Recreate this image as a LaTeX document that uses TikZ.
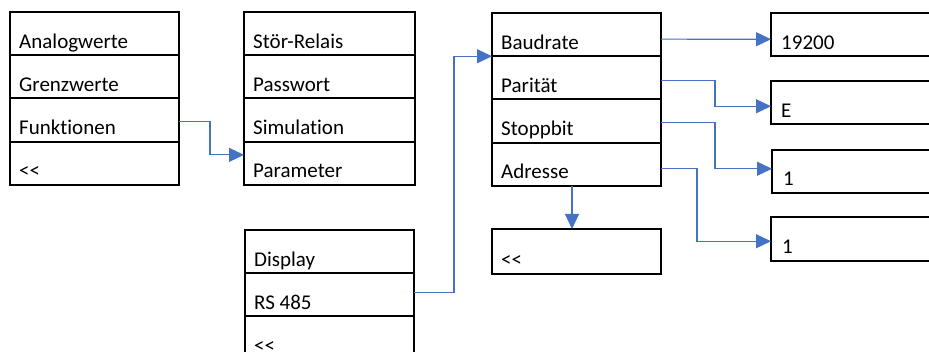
\documentclass[tikz,border=0pt]{standalone}
\usepackage{fontspec}
\setmainfont{Carlito}[Ligatures=NoCommon]
\usetikzlibrary{arrows.meta,calc}
\definecolor{conblue}{HTML}{4472C4}
\newcommand{\lessless}{<\kern0pt<}
\tikzset{
  rowbox/.style={draw=black, line width=2pt, minimum width=#1, minimum height=43.25pt,
    anchor=north west, inner sep=0pt, outer sep=0pt},
  rowbox/.default=169pt,
  valbox/.style={draw=black, line width=2pt, minimum width=240pt, minimum height=43.5pt,
    anchor=north west, inner sep=0pt, outer sep=0pt},
  txt/.style={anchor=base west, inner sep=0pt, font=\fontsize{21}{24}\selectfont},
  conn/.style={draw=conblue, line width=1.2pt, -{Triangle[length=15pt,width=14pt]}},
}
\begin{document}
\begin{tikzpicture}[x=1pt,y=-1pt]
\useasboundingbox (0,0) rectangle (929,352);
\clip (0,0) rectangle (929,352);
\fill[white] (0,0) rectangle (929,352);
% box 1
\node[rowbox] (a1) at (10,12) {};
\node[rowbox] (a2) at (10,55.25) {};
\node[rowbox] (a3) at (10,98.5) {};
\node[rowbox] (a4) at (10,141.75) {};
\node[txt] (a1t) at ($(a1.south west)+(9,-7)$) {Analogwerte};
\node[txt] (a2t) at ($(a2.south west)+(9,-7)$) {Grenzwerte};
\node[txt] (a3t) at ($(a3.south west)+(9,-7)$) {Funktionen};
\node[txt] (a4t) at ($(a4.south west)+(9,-7)$) {\lessless};
% box 2
\node[rowbox=171pt] (b1) at (244,12) {};
\node[rowbox=171pt] (b2) at (244,55.25) {};
\node[rowbox=171pt] (b3) at (244,98.5) {};
\node[rowbox=171pt] (b4) at (244,141.75) {};
\node[txt] (b1t) at ($(b1.south west)+(9,-7)$) {Stör-Relais};
\node[txt] (b2t) at ($(b2.south west)+(9,-7)$) {Passwort};
\node[txt] (b3t) at ($(b3.south west)+(9,-7)$) {Simulation};
\node[txt] (b4t) at ($(b4.south west)+(9,-7)$) {Parameter};
% box 3
\node[rowbox] (c1) at (245,230) {};
\node[rowbox] (c2) at (245,273.25) {};
\node[rowbox] (c3) at (245,316.5) {};
\node[txt] (c1t) at ($(c1.south west)+(9,-7)$) {Display};
\node[txt] (c2t) at ($(c2.south west)+(9,-7)$) {RS 485};
\node[txt] (c3t) at ($(c3.south west)+(9,-7)$) {\lessless};
% box 4
\node[rowbox] (d1) at (492,13) {};
\node[rowbox] (d2) at (492,56.25) {};
\node[rowbox] (d3) at (492,99.5) {};
\node[rowbox] (d4) at (492,142.75) {};
\node[txt] (d1t) at ($(d1.south west)+(9,-7)$) {Baudrate};
\node[txt] (d2t) at ($(d2.south west)+(9,-7)$) {Parität};
\node[txt] (d3t) at ($(d3.south west)+(9,-7)$) {Stoppbit};
\node[txt] (d4t) at ($(d4.south west)+(9,-7)$) {Adresse};
% box 5
\node[rowbox, minimum height=45pt] (e1) at (492,229) {};
\node[txt] (e1t) at ($(e1.south west)+(9,-7)$) {\lessless};
% value boxes
\node[valbox] (v1) at (771,13) {};
\node[valbox] (v2) at (771,81) {};
\node[valbox] (v3) at (772,150) {};
\node[valbox] (v4) at (771,217.5) {};
\node[txt] (v1t) at ($(v1.south west)+(10,-7)$) {19200};
\node[txt] (v2t) at ($(v2.south west)+(10,-7)$) {E};
\node[txt] (v3t) at ($(v3.south west)+(11,-7.5)$) {1};
\node[txt] (v4t) at ($(v4.south west)+(11,-7.5)$) {1};
% connectors
\draw[conn] ($(a3.east)+(0,1.5)$) -- ++(31,0) |- ($(b4.west)+(0,-8.5)$);
\draw[conn] ($(c2.east)+(0,-2.5)$) -- ++(40,0) |- (d1.south west);
\draw[conn] ($(d4.south)+(-4.5,0)$) -- ($(e1.north)+(-4.5,0)$);
\draw[conn] ($(d1.east)+(0,4.5)$) -- ($(v1.west)+(0,4.5)$);
\draw[conn] ($(d2.east)+(0,2.5)$) -- ++(54,0) |- ($(v2.west)+(0,3.5)$);
\draw[conn] ($(d3.east)+(0,1)$) -- ++(54,0) |- ($(v3.west)+(0,-3)$);
\draw[conn] ($(d4.east)+(0,4.5)$) -- ++(36,0) |- ($(v4.west)+(0,2)$);
\end{tikzpicture}
\end{document}
